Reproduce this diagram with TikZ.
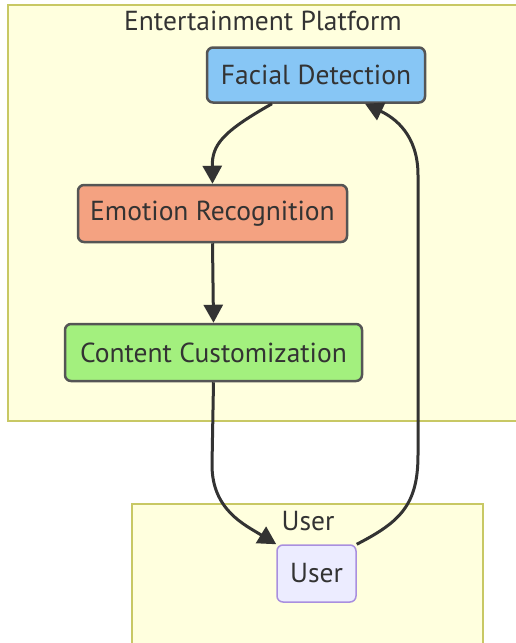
\documentclass[tikz,border=0pt]{standalone}
\usepackage{fontspec}
\setmainfont{PT Sans}
\usetikzlibrary{arrows.meta}
\definecolor{clfill}{HTML}{FFFFDE}
\definecolor{cldraw}{HTML}{C8C864}
\definecolor{edgec}{HTML}{333333}
\definecolor{nodeline}{HTML}{555555}
\definecolor{fdfill}{HTML}{87C6F5}
\definecolor{erfill}{HTML}{F4A281}
\definecolor{ccfill}{HTML}{A3F07E}
\definecolor{usfill}{HTML}{ECECFF}
\definecolor{usdraw}{HTML}{A98FDF}
\definecolor{txt}{HTML}{333333}
\tikzset{
  cluster/.style={fill=clfill, draw=cldraw, line width=1.5pt},
  proc/.style={rectangle, rounded corners=6pt, draw=nodeline, line width=2.5pt,
    text=txt, font=\fontsize{27.5}{32}\selectfont, inner sep=0pt},
  flow/.style={draw=edgec, line width=3pt,
    -{Triangle[length=18pt,width=19pt]}},
  cltitle/.style={text=txt, font=\fontsize{27.5}{32}\selectfont}
}
\begin{document}
\begin{tikzpicture}[x=1pt,y=-1pt]
\useasboundingbox (0,0) rectangle (515,643);
% subgraph frames
\draw[cluster] (8,5) rectangle (530,421);
\draw[cluster] (132,504) rectangle (483,660);
\node[cltitle] (t1) at (263,21) {Entertainment Platform};
\node[cltitle] (t2) at (308,521) {User};
% process steps
\node[proc, fill=fdfill, minimum width=218pt, minimum height=55pt] (fd) at (316,75) {Facial Detection};
\node[proc, fill=erfill, minimum width=269pt, minimum height=57pt] (er) at (212.5,213.5) {Emotion Recognition};
\node[proc, fill=ccfill, minimum width=297pt, minimum height=57pt] (cc) at (213.5,352.5) {Content Customization};
\node[proc, fill=usfill, draw=usdraw, line width=1.5pt, minimum width=79pt, minimum height=57pt] (us) at (316.5,573.5) {User};
% connectors
\coordinate (fdOut) at ([xshift=-44pt]fd.south);
\coordinate (fdIn) at ([xshift=49pt]fd.south);
\coordinate (usIn) at (us.north west);
\coordinate (usOut) at (us.north east);
\draw[flow] (fdOut) .. controls (222,132) and (212,145) .. (er.north);
\draw[flow] (er.south) -- (cc.north);
\draw[flow] (cc.south) -- (212,465) .. controls (212,510) and (245,525) .. (usIn);
\draw[flow] (usOut) .. controls (400,522) and (418,505) .. (418,455) -- (418,175) .. controls (418,135) and (395,118) .. (fdIn);
\end{tikzpicture}
\end{document}
